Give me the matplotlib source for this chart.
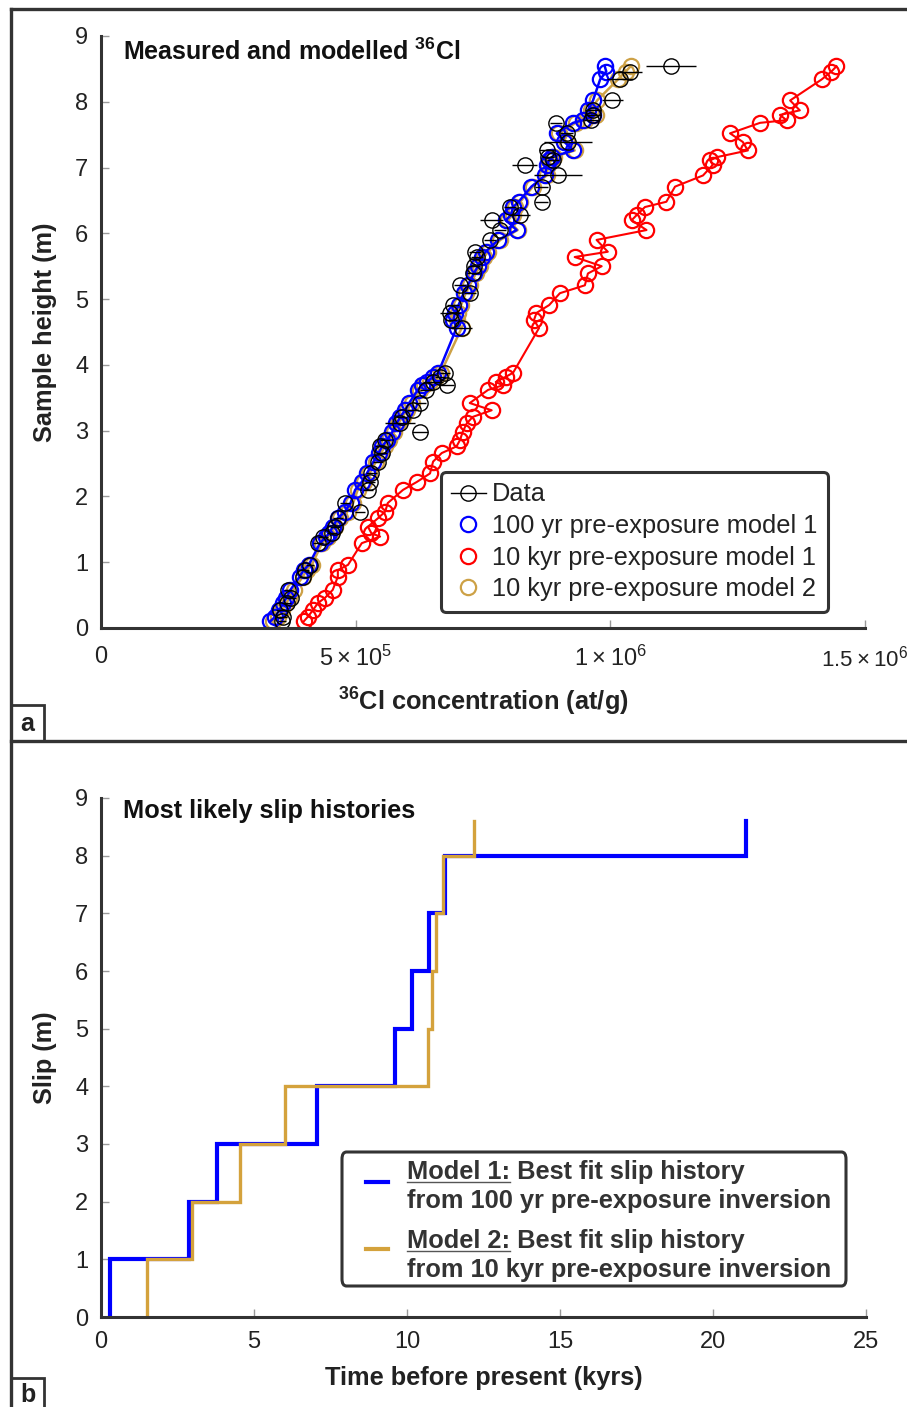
import numpy as np
import matplotlib
matplotlib.use("Agg")
import matplotlib.pyplot as plt
from matplotlib.lines import Line2D
from matplotlib.patches import Rectangle, FancyBboxPatch

plt.rcParams["font.family"] = ["Liberation Sans", "DejaVu Sans"]
plt.rcParams["mathtext.fontset"] = "custom"
plt.rcParams["mathtext.rm"] = "Liberation Sans"
plt.rcParams["mathtext.bf"] = "Liberation Sans:bold"
plt.rcParams["mathtext.default"] = "regular"

# --- panel a: sample heights (m) and 36Cl concentrations (x 1e5 at/g) ---
height = [0.10, 0.17, 0.27, 0.38, 0.46, 0.58, 0.78, 0.88, 0.96, 1.29, 1.39, 1.44, 1.54,
          1.67, 1.77, 1.90, 2.10, 2.22, 2.35, 2.53, 2.66, 2.76, 2.86, 2.98, 3.11, 3.21,
          3.31, 3.42, 3.62, 3.69, 3.74, 3.82, 3.88, 4.56, 4.68, 4.79, 4.91, 5.09, 5.21,
          5.39, 5.50, 5.64, 5.72, 5.90, 6.05, 6.20, 6.28, 6.40, 6.48, 6.71, 6.88, 7.04,
          7.11, 7.16, 7.26, 7.39, 7.52, 7.68, 7.72, 7.80, 7.87, 8.02, 8.34, 8.46, 8.54]

data_cl = [3.55, 3.57, 3.51, 3.65, 3.74, 3.67, 3.97, 4.00, 4.10, 4.26, 4.36, 4.53, 4.59,
           4.65, 5.08, 4.79, 5.24, 5.28, 5.31, 5.44, 5.51, 5.48, 5.58, 6.26, 5.87, 5.90,
           6.12, 6.26, 6.39, 6.79, 6.52, 6.65, 6.75, 7.08, 6.88, 6.85, 6.91, 7.24, 7.05,
           7.30, 7.33, 7.38, 7.34, 7.64, 7.83, 7.67, 8.23, 8.03, 8.65, 8.65, 8.97, 8.32,
           8.87, 8.78, 8.75, 9.17, 9.14, 8.93, 9.63, 9.66, 9.66, 10.04, 10.19, 10.38, 11.20]

data_err = [0.08, 0.08, 0.08, 0.08, 0.08, 0.08, 0.08, 0.08, 0.08, 0.10, 0.10, 0.10, 0.10,
            0.10, 0.10, 0.10, 0.10, 0.10, 0.10, 0.10, 0.10, 0.10, 0.10, 0.16, 0.30, 0.10,
            0.12, 0.12, 0.12, 0.15, 0.20, 0.10, 0.10, 0.20, 0.10, 0.20, 0.12, 0.12, 0.12,
            0.12, 0.12, 0.12, 0.12, 0.12, 0.12, 0.23, 0.20, 0.12, 0.12, 0.12, 0.47, 0.25,
            0.12, 0.12, 0.15, 0.47, 0.12, 0.12, 0.15, 0.15, 0.15, 0.20, 0.25, 0.25, 0.49]

model1_100yr = [3.32, 3.42, 3.50, 3.58, 3.64, 3.72, 3.90, 3.98, 4.08, 4.30, 4.42, 4.48, 4.55,
                4.65, 4.79, 4.90, 4.99, 5.12, 5.22, 5.35, 5.45, 5.52, 5.62, 5.72, 5.80, 5.88,
                5.97, 6.05, 6.22, 6.30, 6.40, 6.52, 6.62, 6.98, 6.92, 6.95, 7.02, 7.12, 7.20,
                7.32, 7.40, 7.48, 7.55, 7.80, 8.16, 7.95, 8.05, 8.09, 8.20, 8.45, 8.72, 8.75,
                8.80, 8.85, 9.27, 9.10, 8.95, 9.27, 9.46, 9.66, 9.56, 9.66, 9.80, 9.92, 9.89]

model1_10kyr = [3.98, 4.06, 4.16, 4.26, 4.40, 4.55, 4.65, 4.65, 4.85, 5.12, 5.48, 5.31, 5.24,
                5.44, 5.58, 5.63, 5.93, 6.20, 6.46, 6.52, 6.69, 6.98, 7.05, 7.10, 7.18, 7.30,
                7.67, 7.24, 7.60, 7.89, 7.75, 7.95, 8.09, 8.60, 8.50, 8.55, 8.80, 9.01, 9.50,
                9.56, 9.83, 9.30, 9.95, 9.73, 10.71, 10.42, 10.52, 10.68, 11.10, 11.27, 11.82,
                12.01, 11.96, 12.10, 12.70, 12.60, 12.35, 12.94, 13.46, 13.33, 13.72, 13.53,
                14.15, 14.34, 14.44]

model2_10kyr = [3.38, 3.48, 3.56, 3.64, 3.70, 3.78, 3.96, 4.04, 4.14, 4.34, 4.46, 4.52, 4.60,
                4.70, 4.84, 4.95, 5.04, 5.16, 5.27, 5.40, 5.50, 5.57, 5.66, 5.76, 5.84, 5.92,
                6.01, 6.10, 6.27, 6.35, 6.45, 6.57, 6.67, 7.08, 6.98, 7.00, 7.07, 7.16, 7.24,
                7.36, 7.44, 7.52, 7.60, 7.84, 8.18, 7.99, 8.08, 8.12, 8.23, 8.48, 8.75, 8.78,
                8.84, 8.89, 9.30, 9.14, 9.00, 9.32, 9.50, 9.72, 9.62, 9.74, 10.15, 10.30, 10.40]

# --- panel b: slip histories (event times in kyr, cumulative slip in m) ---
slip_levels = [0, 1, 2, 3, 4, 5, 6, 7, 8, 8.6]
times_model1 = [0.30, 2.87, 3.78, 7.05, 9.61, 10.16, 10.71, 11.25, 21.08]
times_model2 = [1.50, 2.97, 4.53, 6.02, 10.70, 10.83, 10.96, 11.17, 12.20]

BLUE = "#0000ff"
RED = "#ff0000"
GOLD = "#cda146"
GOLD_LINE = "#d4a23c"
DARK = "#333333"
W, H = 907, 1407
LABEL_FS = 18.3
TICK_FS = 17


def fx(x):
    return x / W


def fy(y):
    return 1 - y / H


fig = plt.figure(figsize=(W / 100, H / 100), dpi=100)

# figure frame lines
for xs, ys in [([11, 907], [9, 9]), ([11, 11], [9, 1407]), ([11, 907], [741, 741])]:
    fig.add_artist(Line2D([fx(x) for x in xs], [fy(y) for y in ys],
                          color=DARK, lw=2.4, transform=fig.transFigure))
for (x0, y0, x1, y1), lab in [((11, 705, 44, 741), "a"), ((11, 1378, 44, 1410), "b")]:
    fig.add_artist(Rectangle((fx(x0), fy(y1)), fx(x1 - x0), (y1 - y0) / H, fill=False,
                             ec=DARK, lw=2.0, transform=fig.transFigure))
    fig.text(fx((x0 + x1) / 2), fy((y0 + y1) / 2 + 1), lab, fontsize=18, fontweight="bold",
             ha="center", va="center", color="#222222")


def style_axes(ax, pad):
    for s in ["top", "right"]:
        ax.spines[s].set_visible(False)
    for s in ["left", "bottom"]:
        ax.spines[s].set_linewidth(2.2)
        ax.spines[s].set_color(DARK)
    ax.tick_params(direction="in", length=6, width=1, color="#999999",
                   labelsize=TICK_FS, labelcolor="#222222")
    ax.tick_params(axis="x", pad=pad)
    ax.tick_params(axis="y", pad=9)


# ---------------- panel a ----------------
ax1 = fig.add_axes([fx(101), fy(628), fx(865 - 101), (628 - 36) / H])
ax1.set_xlim(0, 1.5e6)
ax1.set_ylim(0, 9)
style_axes(ax1, 13)

sc = 1e5
ax1.plot(np.array(model2_10kyr) * sc, height, "-o", color=GOLD, mfc="none", ms=11,
         mew=1.6, lw=1.8)
ax1.plot(np.array(model1_100yr) * sc, height, "-o", color=BLUE, mfc="none", ms=11,
         mew=1.6, lw=1.8)
ax1.plot(np.array(model1_10kyr) * sc, height, "-o", color=RED, mfc="none", ms=11,
         mew=1.6, lw=1.5)
ax1.errorbar(np.array(data_cl) * sc, height, xerr=np.array(data_err) * sc, fmt="o",
             color="black", mfc="none", ms=11, mew=1.0, elinewidth=1.0, capsize=0)

ax1.set_xticks([0, 5e5, 1e6, 1.5e6])
ax1.set_xticklabels(["0", r"$5\times10^{5}$", r"$1\times10^{6}$", r"$1.5\times10^{6}$"])
ax1.get_xticklabels()[-1].set_fontsize(16)
ax1.set_yticks(range(10))
ax1.set_xlabel(r"$^{36}$Cl concentration (at/g)", fontsize=LABEL_FS, fontweight="bold",
               color="#222222")
ax1.xaxis.set_label_coords(0.5, -0.098)
ax1.set_ylabel("Sample height (m)", fontsize=LABEL_FS, fontweight="bold", color="#222222")
ax1.yaxis.set_label_coords(-0.058, 0.5)
ax1.text(0.0288, 0.974, r"Measured and modelled $^{\mathbf{36}}$Cl", transform=ax1.transAxes,
         fontsize=18, fontweight="bold", va="center", ha="left", color="#111111")

handles = [
    Line2D([], [], color="black", marker="o", mfc="none", ms=11, mew=1.0, lw=1.0),
    Line2D([], [], ls="none", marker="o", mfc="none", mec=BLUE, ms=11, mew=1.6),
    Line2D([], [], ls="none", marker="o", mfc="none", mec=RED, ms=11, mew=1.6),
    Line2D([], [], ls="none", marker="o", mfc="none", mec=GOLD, ms=11, mew=1.6),
]
labels = ["Data", "100 yr pre-exposure model 1", "10 kyr pre-exposure model 1",
          "10 kyr pre-exposure model 2"]
leg = ax1.legend(handles, labels, loc="lower right", bbox_to_anchor=(0.9516, 0.027),
                 fontsize=18.3, frameon=True, fancybox=True, framealpha=1,
                 handlelength=1.35, handletextpad=0.25, labelspacing=0.3, borderpad=0.42,
                 borderaxespad=0)
leg.get_frame().set_edgecolor(DARK)
leg.get_frame().set_linewidth(2.2)
for t in leg.get_texts():
    t.set_color("#222222")

# ---------------- panel b ----------------
ax2 = fig.add_axes([fx(101), fy(1317), fx(866 - 101), (1317 - 798) / H])
ax2.set_xlim(0, 25)
ax2.set_ylim(0, 9)
style_axes(ax2, 10)


def step_path(times, levels):
    xs = np.repeat(times, 2)
    ys = [levels[0]]
    for lv in levels[1:-1]:
        ys += [lv, lv]
    ys.append(levels[-1])
    return xs, ys


x1s, y1s = step_path(times_model1, slip_levels)
x2s, y2s = step_path(times_model2, slip_levels)
ax2.plot(x1s, y1s, color=BLUE, lw=3.0, solid_joinstyle="miter")
ax2.plot(x2s, y2s, color=GOLD_LINE, lw=2.4, solid_joinstyle="miter")

ax2.set_xticks(range(0, 26, 5))
ax2.set_yticks(range(10))
ax2.set_xlabel("Time before present (kyrs)", fontsize=LABEL_FS, fontweight="bold",
               color="#222222")
ax2.xaxis.set_label_coords(0.5, -0.094)
ax2.set_ylabel("Slip (m)", fontsize=LABEL_FS, fontweight="bold", color="#222222")
ax2.yaxis.set_label_coords(-0.058, 0.5)
ax2.text(0.0288, 0.975, "Most likely slip histories", transform=ax2.transAxes,
         fontsize=LABEL_FS, fontweight="bold", va="center", ha="left", color="#111111")

# manual legend for panel b (underlined model names)
fig.add_artist(FancyBboxPatch((fx(342), fy(1286)), fx(846 - 342), (1286 - 1152) / H,
                              boxstyle="round,pad=0,rounding_size=0.005",
                              fc="white", ec=DARK, lw=2.2, transform=fig.transFigure,
                              zorder=5))
fig.add_artist(Line2D([fx(366), fx(388)], [fy(1182), fy(1182)], color=BLUE, lw=3.0,
                      transform=fig.transFigure, zorder=6))
fig.add_artist(Line2D([fx(366), fx(388)], [fy(1249), fy(1249)], color=GOLD_LINE, lw=3.0,
                      transform=fig.transFigure, zorder=6))
leg_text = [("Model 1:", " Best fit slip history", "from 100 yr pre-exposure inversion", 1179),
            ("Model 2:", " Best fit slip history", "from 10 kyr pre-exposure inversion", 1248)]
LEG_FS = 18.3
measure = []
for name, rest, line2, base in leg_text:
    fig.text(fx(407), fy(base), name + rest, fontsize=LEG_FS, fontweight="bold", color=DARK,
             ha="left", va="baseline", zorder=7)
    fig.text(fx(407), fy(base + 29), line2, fontsize=LEG_FS, fontweight="bold", color=DARK,
             ha="left", va="baseline", zorder=7)
    measure.append((fig.text(fx(407), fy(base), name, fontsize=LEG_FS, fontweight="bold",
                             alpha=0, ha="left", va="baseline"), base))

fig.canvas.draw()
for t, base in measure:
    bb = t.get_window_extent()
    fig.add_artist(Line2D([bb.x0 / W, bb.x1 / W], [fy(base + 3), fy(base + 3)],
                          color="#555555", lw=1.0, transform=fig.transFigure, zorder=7))

fig.savefig("out.png", dpi=100)
